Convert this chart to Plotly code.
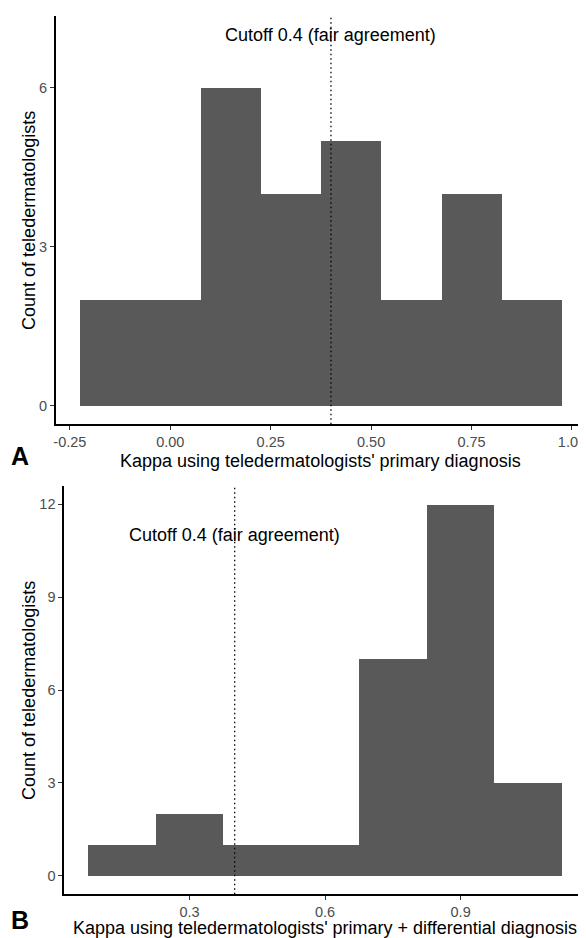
import plotly.graph_objects as go

# ---- data (histogram bins) ----
top_edges = [-0.225, -0.075, 0.075, 0.225, 0.375, 0.525, 0.675, 0.825, 0.975]
top_counts = [2, 2, 6, 4, 5, 2, 4, 2]
bottom_edges = [0.075, 0.225, 0.375, 0.525, 0.675, 0.825, 0.975, 1.125]
bottom_counts = [1, 2, 1, 1, 7, 12, 3]
cutoff = 0.4
top_yticks = [0, 3, 6]
top_xticks = [-0.25, 0.0, 0.25, 0.5, 0.75, 1.0]
top_xticklabels = ["-0.25", "0.00", "0.25", "0.50", "0.75", "1.00"]
bottom_yticks = [0, 3, 6, 9, 12]
bottom_xticks = [0.3, 0.6, 0.9]
bottom_xticklabels = ["0.3", "0.6", "0.9"]

# page body has an 8px margin; the figure fills the rest of the window
OFF = 8
W, H = 586 - OFF, 938 - OFF
FONT = "Liberation Sans, Arial, sans-serif"
BAR = "#595959"


def centers(edges):
    return [(a + b) / 2 for a, b in zip(edges[:-1], edges[1:])]


def widths(edges):
    return [b - a for a, b in zip(edges[:-1], edges[1:])]


def px_x(p):
    return (p - OFF) / W


def py(p):
    return 1 - (p - OFF) / H


fig = go.Figure()
fig.add_trace(go.Bar(x=centers(top_edges), y=top_counts, width=widths(top_edges),
                     marker=dict(color=BAR, line=dict(width=0)),
                     xaxis="x", yaxis="y", showlegend=False))
fig.add_trace(go.Bar(x=centers(bottom_edges), y=bottom_counts, width=widths(bottom_edges),
                     marker=dict(color=BAR, line=dict(width=0)),
                     xaxis="x2", yaxis="y2", showlegend=False))

axis_common = dict(showgrid=False, zeroline=False, showline=True, linecolor="black",
                   linewidth=1.5, ticks="outside", ticklen=4, tickwidth=1.2,
                   tickcolor="#333333", ticklabeloverflow="allow",
                   tickfont=dict(family=FONT, size=14.5, color="#4D4D4D"))

fig.update_layout(
    width=W, height=H,
    margin=dict(l=0, r=0, t=0, b=0),
    plot_bgcolor="white", paper_bgcolor="white",
    bargap=0,
    xaxis=dict(domain=[px_x(54), 1], range=[-0.285, 1.035], anchor="y",
               tickvals=top_xticks, ticktext=top_xticklabels, **axis_common),
    yaxis=dict(domain=[py(424.3), py(16.2)], range=[-0.35, 7.35], anchor="x",
               tickvals=top_yticks, **axis_common),
    xaxis2=dict(domain=[px_x(62.3), 1], range=[0.0225, 1.1775], anchor="y2",
                tickvals=bottom_xticks, ticktext=bottom_xticklabels, **axis_common),
    yaxis2=dict(domain=[py(894.3), py(485.7)], range=[-0.6, 12.6], anchor="x2",
                tickvals=bottom_yticks, **axis_common),
)

# cutoff lines
for xr, yr in (("x", "y domain"), ("x2", "y2 domain")):
    fig.add_shape(type="line", xref=xr, yref=yr, x0=cutoff, x1=cutoff, y0=0, y1=1,
                  line=dict(color="black", width=1.3, dash="1.5px,3px"), layer="above")

title_font = dict(family=FONT, size=18, color="black")
annots = [
    dict(x=cutoff, y=7, xref="x", yref="y", text="Cutoff 0.4 (fair agreement)"),
    dict(x=cutoff, y=11, xref="x2", yref="y2", text="Cutoff 0.4 (fair agreement)"),
    dict(x=px_x(320), y=py(461), xref="paper", yref="paper",
         text="Kappa using teledermatologists' primary diagnosis"),
    dict(x=px_x(324), y=py(927.5), xref="paper", yref="paper",
         text="Kappa using teledermatologists' primary + differential diagnosis"),
    dict(x=px_x(27), y=py(220), xref="paper", yref="paper",
         text="Count of teledermatologists", textangle=-90),
    dict(x=px_x(27), y=py(690), xref="paper", yref="paper",
         text="Count of teledermatologists", textangle=-90),
]
for a in annots:
    fig.add_annotation(showarrow=False, xanchor="center", yanchor="middle",
                       font=title_font, **a)

for lbl, yy in (("A", 456), ("B", 920)):
    fig.add_annotation(x=px_x(18), y=py(yy), xref="paper", yref="paper", text="<b>%s</b>" % lbl,
                       showarrow=False, xanchor="center", yanchor="middle",
                       font=dict(family=FONT, size=25, color="black"))

fig.write_html("out.html")
